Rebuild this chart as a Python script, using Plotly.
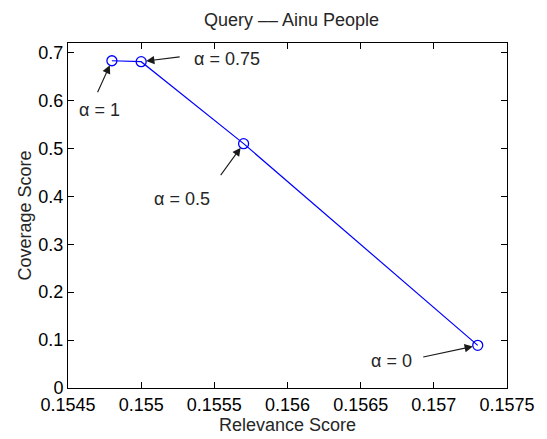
import plotly.graph_objects as go

# ---- data ----
relevance = [0.1548, 0.1550, 0.1557, 0.1573]
coverage = [0.683, 0.681, 0.510, 0.089]
alpha_labels = ["α = 1", "α = 0.75", "α = 0.5", "α = 0"]
x_ticks = [0.1545, 0.155, 0.1555, 0.156, 0.1565, 0.157, 0.1575]
x_ticktext = ["0.1545", "0.155", "0.1555", "0.156", "0.1565", "0.157", "0.1575"]
y_ticks = [0, 0.1, 0.2, 0.3, 0.4, 0.5, 0.6, 0.7]
y_ticktext = ["0", "0.1", "0.2", "0.3", "0.4", "0.5", "0.6", "0.7"]

# arrow tail offsets (px) and label offsets (px) relative to each point
arrow_ax = [-15, 40, -24, -56]
arrow_ay = [33, -5, 33, 12]
label_dx = [-12, 86, -62, -86]
label_dy = [49, -3, 55, 16]

FONT = "Liberation Sans, Arial, Helvetica, sans-serif"
TXT = "#262626"
FS = 18

fig = go.Figure()
fig.add_trace(go.Scatter(
    x=relevance, y=coverage, mode="lines+markers",
    line=dict(color="#0000ff", width=1.2),
    marker=dict(symbol="circle-open", size=10, color="#0000ff", line=dict(width=1.3)),
    showlegend=False, hoverinfo="skip"))

annotations = []
for i in range(len(relevance)):
    annotations.append(dict(
        x=relevance[i], y=coverage[i], xref="x", yref="y",
        text="", showarrow=True, ax=arrow_ax[i], ay=arrow_ay[i],
        arrowhead=2, arrowsize=1.5, arrowwidth=1.1, arrowcolor="#1a1a1a",
        standoff=5))
    annotations.append(dict(
        x=relevance[i], y=coverage[i], xref="x", yref="y",
        text=alpha_labels[i], showarrow=False,
        xshift=label_dx[i], yshift=-label_dy[i],
        font=dict(family=FONT, size=FS, color=TXT)))

axis_common = dict(
    showline=True, linecolor="black", linewidth=1, mirror="ticks",
    ticks="inside", ticklen=6, tickcolor="black", showgrid=False, zeroline=False,
    tickfont=dict(family=FONT, size=FS, color="black"))

fig.update_layout(
    width=547, height=439,
    margin=dict(l=68, r=32, t=43, b=45),
    paper_bgcolor="white", plot_bgcolor="white",
    title=dict(text="Query –– Ainu People", x=0.533, xanchor="center", y=0.955, yanchor="middle",
               font=dict(family=FONT, size=FS, color=TXT)),
    xaxis=dict(range=[0.1545, 0.1575], tickvals=x_ticks, ticktext=x_ticktext,
               title=dict(text="Relevance Score", standoff=0, font=dict(family=FONT, size=FS, color=TXT)),
               **axis_common),
    yaxis=dict(range=[0, 0.72], tickvals=y_ticks, ticktext=y_ticktext,
               title=dict(text="Coverage Score", standoff=2, font=dict(family=FONT, size=FS, color=TXT)),
               **axis_common),
    annotations=annotations,
)

fig.write_html("out.html", config={"displayModeBar": False},
               post_script="document.body.style.margin='0px';")
